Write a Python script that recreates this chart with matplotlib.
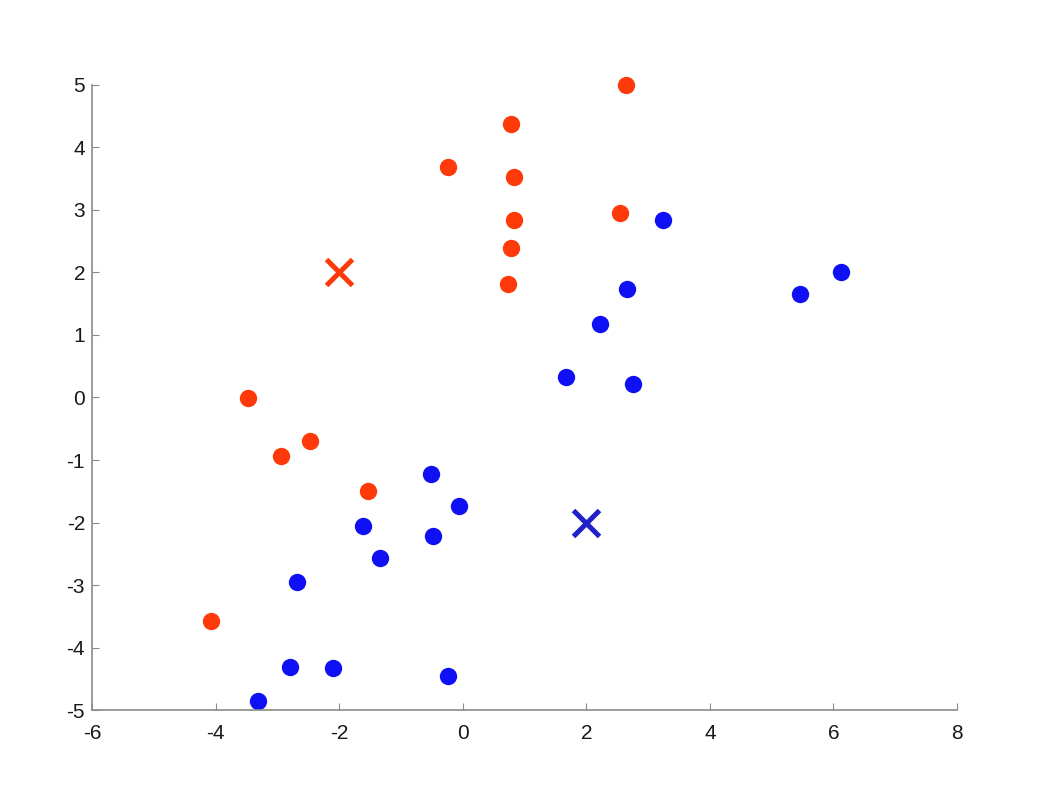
import matplotlib
matplotlib.use("Agg")
import matplotlib.pyplot as plt

plt.rcParams['font.family'] = ['Liberation Sans', 'DejaVu Sans']
plt.rcParams['axes.unicode_minus'] = False

red_x = [2.64, 0.78, -0.24, 0.83, 0.83, 2.54, 0.78, 0.73, -3.48, -2.47, -2.94, -1.53, -4.07]
red_y = [5.00, 4.38, 3.69, 3.53, 2.84, 2.95, 2.39, 1.82, -0.01, -0.70, -0.94, -1.50, -3.58]
blue_x = [3.24, 6.12, 5.46, 2.66, 2.22, 1.67, 2.75, -0.51, -0.06, -1.61, -0.48, -1.34, -2.68, -2.80, -2.10, -0.24, -3.31]
blue_y = [2.84, 2.01, 1.66, 1.74, 1.18, 0.33, 0.22, -1.22, -1.74, -2.06, -2.22, -2.57, -2.95, -4.31, -4.33, -4.46, -4.86]
centroid_red = (-2, 2)
centroid_blue = (2, -2)
xticks = [-6, -4, -2, 0, 2, 4, 6, 8]
yticks = [-5, -4, -3, -2, -1, 0, 1, 2, 3, 4, 5]

fig = plt.figure(figsize=(10.59, 7.89), dpi=100)
ax = fig.add_axes([0.0869, 0.1001, 0.8168, 0.7922])
ax.plot(red_x, red_y, 'o', color='#FF3A0A', markersize=12.5, markeredgewidth=0, clip_on=False)
ax.plot(blue_x, blue_y, 'o', color='#1010F5', markersize=12.5, markeredgewidth=0, clip_on=False)
ax.plot([centroid_red[0]], [centroid_red[1]], 'x', color='#FF3A0A', markersize=19, markeredgewidth=3.6)
ax.plot([centroid_blue[0]], [centroid_blue[1]], 'x', color='#2020C8', markersize=19, markeredgewidth=3.6)

ax.set_xlim(-6, 8)
ax.set_ylim(-5, 5)
ax.set_xticks(xticks)
ax.set_yticks(yticks)
for s in ['top', 'right']:
    ax.spines[s].set_visible(False)
for s in ['left', 'bottom']:
    ax.spines[s].set_color('#8a8a8a')
    ax.spines[s].set_linewidth(1.2)
ax.tick_params(direction='in', length=5, color='#8a8a8a', labelsize=15, labelcolor='#1a1a1a')
ax.tick_params(axis='x', pad=10)
ax.tick_params(axis='y', pad=5)
fig.savefig('out.png', dpi=100)
